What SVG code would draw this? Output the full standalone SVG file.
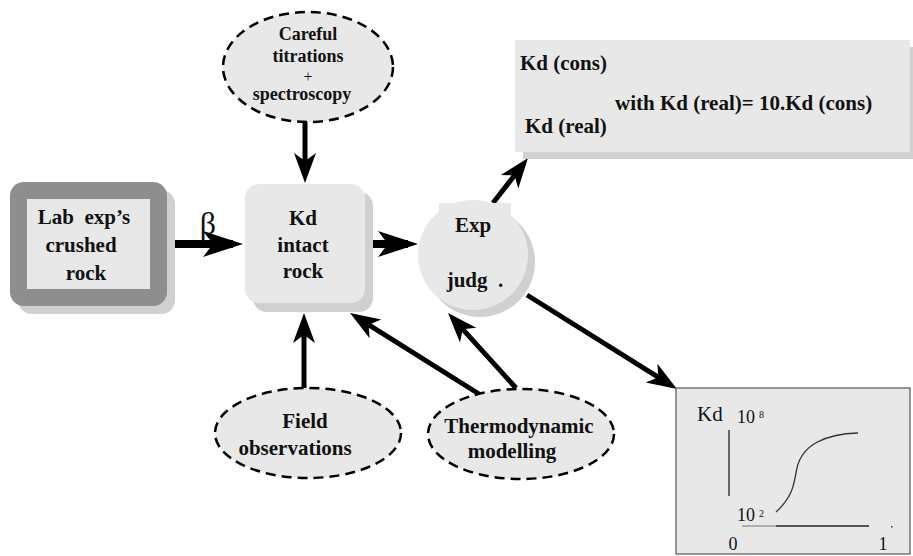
<svg xmlns="http://www.w3.org/2000/svg" width="913" height="556" viewBox="0 0 913 556">
<style>
.t{font-family:"Liberation Serif","Times New Roman",serif;font-weight:bold;fill:#111;text-anchor:middle;white-space:pre}
.s{text-anchor:start}
.r{font-family:"Liberation Serif","Times New Roman",serif;fill:#111}
.m{text-anchor:middle}
.lt{fill:#e8e8e8}
.sh{fill:#d0d0d0}
.dash{fill:#e8e8e8;stroke:#000;stroke-width:2.5;stroke-dasharray:10 6}
.ar{stroke:#000;stroke-width:5;fill:none;marker-end:url(#h)}
.arb{stroke:#000;stroke-width:8;fill:none;marker-end:url(#hb)}
</style>
<defs>
<marker id="h" markerUnits="userSpaceOnUse" viewBox="-30 -14 42 28" refX="0" refY="0" markerWidth="42" markerHeight="28" orient="auto" overflow="visible">
<path d="M10,0 L-20,-11 L-12,0 L-20,11 Z" fill="#000"/>
</marker>
<marker id="hb" markerUnits="userSpaceOnUse" viewBox="-40 -16 52 32" refX="0" refY="0" markerWidth="52" markerHeight="32" orient="auto" overflow="visible">
<path d="M10,0 L-30,-13 L-20,0 L-30,13 Z" fill="#000"/>
</marker>
</defs>
<rect width="913" height="556" fill="#fff"/>

<g id="connectors">
<line class="arb" x1="167" y1="244" x2="233" y2="244"/>
<line class="arb" x1="373" y1="244" x2="408" y2="244"/>
<line class="ar" x1="305" y1="122" x2="305" y2="173"/>
<line class="ar" x1="304" y1="388" x2="304" y2="323"/>
<line class="ar" x1="479" y1="394" x2="358.5" y2="318.3"/>
<line class="ar" x1="516" y1="388" x2="454.7" y2="320.4"/>
<line class="ar" x1="493" y1="203" x2="521.9" y2="165.9"/>
<line class="ar" x1="527" y1="295" x2="668.5" y2="383.7"/>
</g>

<g id="lab">
<rect class="sh" x="18" y="190" width="157" height="124" rx="14"/>
<rect x="10" y="182" width="157" height="124" rx="14" fill="#8e8e8e"/>
<rect class="lt" x="27" y="199" width="123" height="90"/>
<text class="t" x="84" y="224" font-size="21" xml:space="preserve">Lab  exp’s</text>
<text class="t" x="81" y="252" font-size="21">crushed</text>
<text class="t" x="86" y="280" font-size="21">rock</text>
<text class="r m" x="208" y="234" font-size="32">β</text>
</g>

<g id="kd">
<rect class="sh" x="253" y="192" width="120" height="120" rx="14"/>
<rect class="lt" x="245" y="184" width="120" height="119" rx="14"/>
<text class="t" x="303" y="225" font-size="21">Kd</text>
<text class="t" x="303" y="252" font-size="21">intact</text>
<text class="t" x="303" y="278" font-size="21">rock</text>
</g>

<g id="exp">
<circle class="sh" cx="480" cy="262" r="55"/>
<circle class="lt" cx="473" cy="255" r="55"/>
<rect class="lt" x="439" y="203" width="72" height="12"/>
<text class="t" x="473" y="232" font-size="21">Exp</text>
<text class="t" x="475" y="287" font-size="21" xml:space="preserve">judg  .</text>
</g>

<g id="careful">
<ellipse class="dash" cx="308" cy="67" rx="85" ry="55"/>
<text class="t" x="308" y="40" font-size="18">Careful</text>
<text class="t" x="308" y="62" font-size="18">titrations</text>
<text class="r m" x="308" y="82" font-size="16">+</text>
<text class="t" x="302" y="100" font-size="18">spectroscopy</text>
</g>

<g id="field">
<ellipse class="dash" cx="308" cy="433" rx="93" ry="45"/>
<text class="t" x="305" y="428" font-size="21">Field</text>
<text class="t" x="295" y="455" font-size="21">observations</text>
</g>

<g id="thermo">
<ellipse class="dash" cx="521" cy="434" rx="93" ry="45"/>
<text class="t" x="519" y="433" font-size="21">Thermodynamic</text>
<text class="t" x="512" y="458" font-size="21">modelling</text>
</g>

<g id="note">
<rect class="sh" x="523" y="47" width="395" height="112"/>
<rect class="lt" x="515" y="40" width="395" height="112"/>
<text class="t s" x="520" y="70" font-size="21">Kd (cons)</text>
<text class="t s" x="615" y="110" font-size="21">with Kd (real)= 10.Kd (cons)</text>
<text class="t s" x="525" y="133" font-size="21">Kd (real)</text>
</g>

<g id="graph">
<rect x="676" y="388" width="234" height="166" fill="#e8e8e8" stroke="#555" stroke-width="1.2"/>
<text class="r" x="697" y="421" font-size="21">Kd</text>
<text class="r" x="737" y="423" font-size="18">10</text>
<text class="r" x="759" y="418" font-size="10">8</text>
<line x1="729" y1="430" x2="729" y2="496" stroke="#222" stroke-width="1.3"/>
<path d="M776,512 C795,495 794,480 797,468 C802,445 825,434 858,433" fill="none" stroke="#333" stroke-width="1.3"/>
<text class="r" x="737" y="521" font-size="18">10</text>
<text class="r" x="759" y="517" font-size="10">2</text>
<line x1="742" y1="526" x2="776" y2="526" stroke="#777" stroke-width="1"/>
<line x1="776" y1="526" x2="869" y2="526" stroke="#222" stroke-width="1.3"/>
<rect x="891" y="526" width="1.5" height="1.5" fill="#333"/>
<text class="r m" x="733" y="550" font-size="18">0</text>
<text class="r m" x="883" y="550" font-size="18">1</text>
</g>
</svg>
